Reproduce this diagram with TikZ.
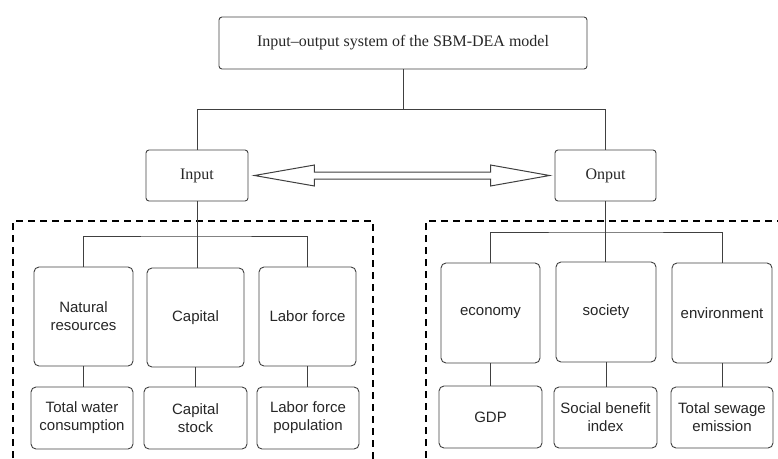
\documentclass[tikz,border=0pt]{standalone}
\usepackage{fontspec}
\setmainfont{Liberation Serif}
\newfontfamily\sansf{Liberation Sans}
\usetikzlibrary{calc}
\begin{document}
\begin{tikzpicture}[x=1pt,y=-1pt,
  line/.style={draw=black!75,line width=0.9pt},
  sbox/.style={draw=black!75,line width=0.9pt,rounded corners=3pt,inner sep=0pt,align=center,
     font=\fontsize{16}{19}\selectfont,text=black!85},
  tbox/.style={draw=black!75,line width=0.9pt,rounded corners=5pt,inner sep=0pt,align=center,
     font=\sansf\fontsize{15}{18}\selectfont,text=black!85},
  dashbox/.style={draw=black,line width=1.8pt,dash pattern=on 7pt off 5pt}]
\useasboundingbox (0,0) rectangle (778,458);
\clip (0,0) rectangle (778,458);
% top level
\node[sbox,minimum width=368pt,minimum height=52pt] (top) at (403,43) {Input--output system of the SBM-DEA model};
\node[sbox,minimum width=102pt,minimum height=51pt] (in) at (197,175.5) {Input};
\node[sbox,minimum width=101pt,minimum height=51pt] (out) at (605.5,175.5) {Onput};
\draw[line] (top.south) -- ++(0,40) coordinate (j);
\draw[line] (in.north) |- (j) -| (out.north);
% double arrow
\coordinate (al) at ($(in.east)+(6,0)$);
\coordinate (ar) at ($(out.west)+(-5,0)$);
\draw[line,line width=1pt,fill=white] (al) -- ++(60,-10.5) -- ++(0,7) -- ($(ar)+(-59,-3.5)$) -- ++(0,-7) -- (ar)
  -- ($(ar)+(-59,10.5)$) -- ++(0,-7) -- ($(al)+(60,3.5)$) -- ++(0,7) -- cycle;
% dashed frames
\draw[dashbox] (13,470) -- (13,221) -- (373,221) -- (373,470);
\draw[dashbox] (426,470) -- (426,221) -- (795,221);
% input side
\node[tbox,minimum width=99pt,minimum height=99pt] (nat) at (83.5,316.5) {Natural\\resources};
\node[tbox,minimum width=97pt,minimum height=99pt] (cap) at (195.5,317.5) {Capital};
\node[tbox,minimum width=97pt,minimum height=99pt] (lab) at (307.5,316.5) {Labor force};
\node[tbox,minimum width=102pt,minimum height=62pt] (wat) at (82,418) {Total water\\consumption};
\node[tbox,minimum width=103pt,minimum height=62pt] (cst) at (195.5,418) {Capital\\stock};
\node[tbox,minimum width=102pt,minimum height=62pt] (lpp) at (308,418) {Labor force\\population};
\draw[line] (in.south) -- (in.south |- cap.north);
\draw[line] (nat.north) |- (in.south |- 0,236) -| (lab.north);
\draw[line] (nat.south) -- (nat.south |- wat.north);
\draw[line] (cap.south) -- (cap.south |- cst.north);
\draw[line] (lab.south) -- (lab.south |- lpp.north);
% output side
\node[tbox,minimum width=99pt,minimum height=100pt] (eco) at (490.5,313) {economy};
\node[tbox,minimum width=100pt,minimum height=100pt] (soc) at (606,312) {society};
\node[tbox,minimum width=100pt,minimum height=100pt] (env) at (722,313) {environment};
\node[tbox,minimum width=103pt,minimum height=62pt] (gdp) at (490.5,417) {GDP};
\node[tbox,minimum width=103pt,minimum height=61pt] (sbi) at (605.5,417.5) {Social benefit\\index};
\node[tbox,minimum width=102pt,minimum height=61pt] (sew) at (722,417.5) {Total sewage\\emission};
\draw[line] (out.south) -- (out.south |- soc.north);
\draw[line] (eco.north) |- (out.south |- 0,232) -| (env.north);
\draw[line] (eco.south) -- (eco.south |- gdp.north);
\draw[line] (soc.south) -- (soc.south |- sbi.north);
\draw[line] (env.south) -- (env.south |- sew.north);
\end{tikzpicture}
\end{document}
